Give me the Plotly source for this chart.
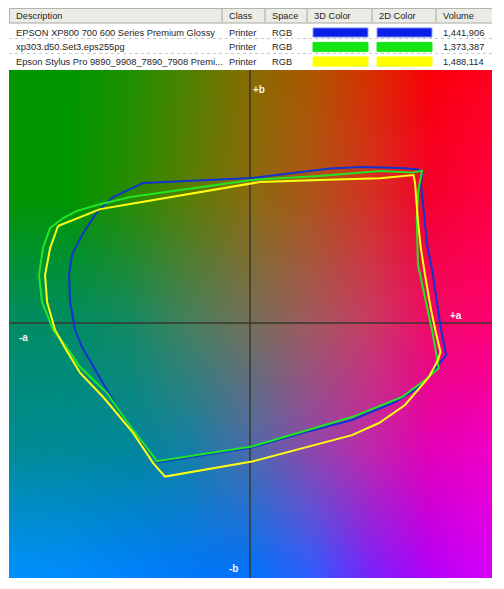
import base64, struct, zlib
import numpy as np
import plotly.graph_objects as go

# ---------------- table data ----------------
headers = ["Description", "Class", "Space", "3D Color", "2D Color", "Volume"]
descriptions = ["EPSON XP800 700 600 Series Premium Glossy",
                "xp303.d50.Set3.eps255pg",
                "Epson Stylus Pro 9890_9908_7890_7908 Premi..."]
classes = ["Printer", "Printer", "Printer"]
spaces = ["RGB", "RGB", "RGB"]
volumes = ["1,441,906", "1,373,387", "1,488,114"]
profile_colors = ["#0A1EE6", "#14E614", "#FFFF00"]

# ---------------- gamut outlines (a*, b*) ----------------
blue_a = [-56.4, 1.3, 42.7, 59.6, 79.8, 88.8, 91.4, 90.9, 92.0, 94.1, 96.8, 99.4, 101.5, 104.2,
          96.8, 89.8, 77.1, 54.3, 27.8, 1.3, -26.2, -48.5, -58.0, -70.2, -80.8, -88.8, -92.5,
          -95.1, -95.7, -94.1, -88.8, -80.8, -72.3, -56.4]
blue_b = [70.8, 73.3, 78.1, 78.8, 78.3, 77.7, 76.6, 69.8, 59.7, 39.6, 27.0, 9.3, -3.3, -15.9,
          -25.0, -32.1, -39.6, -48.7, -55.2, -62.5, -66.6, -69.9, -58.8, -42.1, -25.0, -11.9, -3.3,
          10.8, 24.4, 34.5, 44.6, 56.2, 63.7, 70.8]

green_a = [-105.7, -98.8, -91.4, -80.8, -63.3, 1.3, 36.8, 69.2, 86.1, 91.4, 89.5, 88.6, 89.0, 89.3,
           96.8, 100.3, 93.0, 80.8, 54.3, 27.8, 1.3, -49.0, -61.7, -75.5, -89.8, -97.8, -104.1,
           -110.0, -111.6, -109.5, -105.7]
green_b = [48.1, 53.1, 56.7, 59.7, 63.7, 72.3, 74.3, 76.8, 76.1, 76.8, 67.4, 53.8, 37.0, 29.4,
           -3.8, -22.5, -28.5, -37.1, -47.2, -54.7, -62.0, -69.4, -53.7, -35.1, -22.0, -10.9, -3.3,
           10.8, 24.4, 38.0, 48.1]

yellow_a = [-101.5, -79.2, -63.3, 5.6, 36.8, 69.2, 86.9, 87.7, 89.2, 90.7, 93.0, 96.2, 98.8, 101.2,
            99.9, 95.1, 82.4, 68.6, 54.3, 27.8, 1.3, -44.8, -51.1, -61.7, -77.6, -89.8, -97.8,
            -103.1, -107.3, -108.4, -105.7, -101.5]
yellow_b = [49.1, 57.6, 60.2, 71.3, 72.3, 73.1, 74.8, 70.8, 52.1, 38.5, 24.4, 6.8, -4.8, -14.4,
            -18.4, -27.0, -41.1, -50.2, -56.3, -63.0, -69.6, -77.2, -70.4, -55.2, -37.1, -25.0, -12.4,
            -3.3, 10.8, 24.4, 38.0, 49.1]

# ---------------- background colour field (sampled from the a*b* plane) ----------------
bg_a = np.array([-128, -96, -64, -32, 0, 32, 64, 96, 128], dtype=float)
bg_b = np.array([128, 64, 0, -64, -128], dtype=float)
bg_rgb = np.array([
    [(0, 150, 0), (0, 150, 0), (30, 145, 0), (80, 130, 0), (135, 108, 0), (172, 88, 0), (215, 48, 0), (250, 0, 8), (255, 0, 30)],
    [(0, 150, 0), (0, 150, 0), (40, 140, 0), (90, 125, 5), (138, 108, 15), (172, 86, 25), (212, 50, 35), (245, 0, 45), (255, 0, 65)],
    [(0, 140, 100), (0, 140, 100), (20, 138, 100), (70, 128, 95), (115, 112, 90), (160, 90, 95), (200, 60, 100), (240, 10, 105), (255, 0, 115)],
    [(0, 140, 150), (0, 138, 152), (0, 135, 155), (20, 128, 165), (75, 108, 172), (140, 72, 172), (190, 40, 172), (228, 0, 182), (240, 0, 200)],
    [(0, 145, 255), (0, 140, 255), (0, 130, 255), (0, 120, 250), (0, 115, 250), (45, 95, 255), (120, 35, 252), (180, 0, 250), (215, 0, 250)],
], dtype=float)

A_RANGE = [-127.5, 128.5]
B_RANGE = [-128.3, 127.7]

OFF = 8            # page body margin
W, H = 504 - 2 * OFF, 589 - 2 * OFF
PX_L, PX_R, PX_T, PX_B = 9, 492, 70, 578


def X(px):
    return (px - OFF) / W


def Y(py):
    return 1 - (py - OFF) / H


# build background raster
iw, ih = PX_R - PX_L, PX_B - PX_T
av = np.linspace(A_RANGE[0], A_RANGE[1], iw)
bv = np.linspace(B_RANGE[1], B_RANGE[0], ih)
rows = np.zeros((len(bg_b), iw, 3))
for r in range(len(bg_b)):
    for c in range(3):
        rows[r, :, c] = np.interp(av, bg_a, bg_rgb[r, :, c])
img = np.zeros((ih, iw, 3))
for c in range(3):
    for j in range(iw):
        img[:, j, c] = np.interp(bv, bg_b[::-1], rows[::-1, j, c])
img = np.clip(img, 0, 255).astype(np.uint8)


def png_bytes(arr):
    h, w, _ = arr.shape
    raw = b"".join(b"\x00" + arr[y].tobytes() for y in range(h))

    def chunk(t, d):
        return struct.pack(">I", len(d)) + t + d + struct.pack(">I", zlib.crc32(t + d) & 0xffffffff)

    return (b"\x89PNG\r\n\x1a\n" + chunk(b"IHDR", struct.pack(">IIBBBBB", w, h, 8, 2, 0, 0, 0))
            + chunk(b"IDAT", zlib.compress(raw, 9)) + chunk(b"IEND", b""))


src = "data:image/png;base64," + base64.b64encode(png_bytes(img)).decode()

fig = go.Figure()
for xs, ys, col, name in [(blue_a, blue_b, "#1232D2", descriptions[0]),
                          (green_a, green_b, "#22E622", descriptions[1]),
                          (yellow_a, yellow_b, "#FFFF10", descriptions[2])]:
    fig.add_trace(go.Scatter(x=xs, y=ys, mode="lines", line=dict(color=col, width=2),
                             name=name, showlegend=False, hoverinfo="skip"))

shapes = []
annos = []
font = dict(family="Liberation Sans, Arial, sans-serif", size=9.3, color="#1E1E1E")

# header
shapes.append(dict(type="rect", xref="paper", yref="paper", x0=X(9), x1=X(492), y0=Y(23), y1=Y(8.5),
                   fillcolor="#ECECE6", line=dict(width=0), layer="above"))
shapes.append(dict(type="line", xref="paper", yref="paper", x0=X(9), x1=X(492), y0=Y(8.5), y1=Y(8.5),
                   line=dict(color="#B4B4AE", width=1)))
shapes.append(dict(type="line", xref="paper", yref="paper", x0=X(9), x1=X(492), y0=Y(23), y1=Y(23),
                   line=dict(color="#A8A8A0", width=1)))
shapes.append(dict(type="line", xref="paper", yref="paper", x0=X(9.5), x1=X(9.5), y0=Y(23), y1=Y(8.5),
                   line=dict(color="#B4B4AE", width=1)))
col_x = [9, 222, 265, 307, 372, 436]
for cx in col_x[1:]:
    shapes.append(dict(type="line", xref="paper", yref="paper", x0=X(cx), x1=X(cx), y0=Y(22), y1=Y(9),
                       line=dict(color="#A8A8A0", width=1)))
for hx, htxt in zip(col_x, headers):
    annos.append(dict(xref="paper", yref="paper", x=X(hx + 5), y=Y(16), text=htxt, showarrow=False,
                      xanchor="left", yanchor="middle", font=font))

row_y = [32.5, 47, 61.5]
for yy in [38.5, 53.5]:
    shapes.append(dict(type="line", xref="paper", yref="paper", x0=X(9), x1=X(492), y0=Y(yy), y1=Y(yy),
                       line=dict(color="#C8C8C8", width=1, dash="dot")))
for i in range(3):
    yc = row_y[i]
    for txt, cx in [(descriptions[i], 14), (classes[i], 227), (spaces[i], 270), (volumes[i], 441)]:
        annos.append(dict(xref="paper", yref="paper", x=X(cx), y=Y(yc), text=txt, showarrow=False,
                          xanchor="left", yanchor="middle", font=font))
    for x0, x1 in [(313, 368), (377, 432)]:
        shapes.append(dict(type="rect", xref="paper", yref="paper", x0=X(x0), x1=X(x1),
                           y0=Y(yc + 4.6), y1=Y(yc - 4.6), fillcolor=profile_colors[i],
                           line=dict(color="#8CA0F0" if i == 0 else profile_colors[i], width=1)))

# axis labels
lab_font = dict(family="Liberation Sans, Arial, sans-serif", size=10, color="#F4F4F4")
for txt, px, py in [("+b", 259, 90), ("+a", 456, 315), ("-a", 23, 337), ("-b", 233, 568)]:
    annos.append(dict(xref="paper", yref="paper", x=X(px), y=Y(py), text="<b>" + txt + "</b>",
                      showarrow=False, xanchor="center", yanchor="middle", font=lab_font))

fig.update_layout(
    width=W, height=H, autosize=False,
    margin=dict(l=0, r=0, t=0, b=0, pad=0),
    paper_bgcolor="white", plot_bgcolor="white",
    shapes=shapes, annotations=annos,
    images=[dict(source=src, xref="x", yref="y", x=A_RANGE[0], y=B_RANGE[1],
                 sizex=A_RANGE[1] - A_RANGE[0], sizey=B_RANGE[1] - B_RANGE[0],
                 xanchor="left", yanchor="top", sizing="stretch", layer="below")],
    xaxis=dict(domain=[X(PX_L), X(PX_R)], range=A_RANGE, showgrid=False, showticklabels=False,
               ticks="", zeroline=True, zerolinecolor="rgba(55,55,45,0.75)", zerolinewidth=2,
               showline=False, fixedrange=True),
    yaxis=dict(domain=[Y(PX_B), Y(PX_T)], range=B_RANGE, showgrid=False, showticklabels=False,
               ticks="", zeroline=True, zerolinecolor="rgba(55,55,45,0.75)", zerolinewidth=2,
               showline=False, fixedrange=True),
    showlegend=False,
)

fig.write_html("out.html")
